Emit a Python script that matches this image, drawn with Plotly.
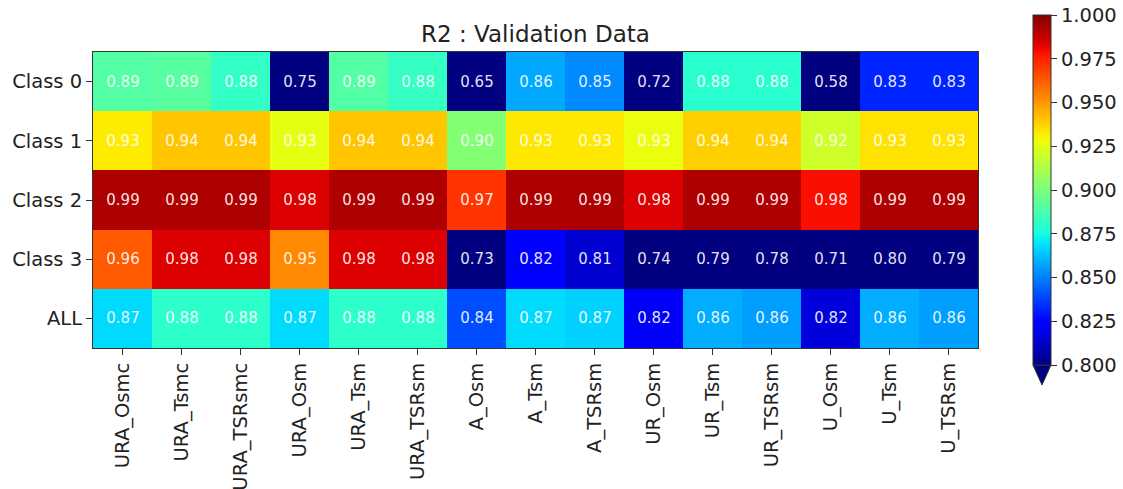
import numpy as np
import plotly.graph_objects as go

models = ["URA_Osmc", "URA_Tsmc", "URA_TSRsmc", "URA_Osm", "URA_Tsm", "URA_TSRsm",
          "A_Osm", "A_Tsm", "A_TSRsm", "UR_Osm", "UR_Tsm", "UR_TSRsm",
          "U_Osm", "U_Tsm", "U_TSRsm"]
classes = ["Class 0", "Class 1", "Class 2", "Class 3", "ALL"]

class0 = [0.890, 0.891, 0.882, 0.75, 0.890, 0.883, 0.65, 0.858, 0.852, 0.72, 0.880, 0.880, 0.58, 0.832, 0.832]
class1 = [0.932, 0.940, 0.940, 0.926, 0.940, 0.940, 0.902, 0.933, 0.933, 0.927, 0.938, 0.938, 0.920, 0.934, 0.934]
class2 = [0.992, 0.992, 0.992, 0.984, 0.992, 0.992, 0.971, 0.992, 0.992, 0.984, 0.992, 0.992, 0.979, 0.992, 0.992]
class3 = [0.963, 0.984, 0.984, 0.953, 0.984, 0.984, 0.73, 0.822, 0.814, 0.74, 0.79, 0.78, 0.71, 0.80, 0.79]
all_row = [0.868, 0.881, 0.881, 0.868, 0.881, 0.881, 0.840, 0.868, 0.866, 0.821, 0.859, 0.856, 0.816, 0.859, 0.856]

z = [class0, class1, class2, class3, all_row]

# matplotlib "jet" colormap
pts = np.linspace(0, 1, 65)
r = np.interp(pts, [0, 0.35, 0.66, 0.89, 1], [0, 0, 1, 1, 0.5])
g = np.interp(pts, [0, 0.125, 0.375, 0.64, 0.91, 1], [0, 0, 1, 1, 0, 0])
b = np.interp(pts, [0, 0.11, 0.34, 0.65, 1], [0.5, 1, 1, 0, 0])
jet = [[float(p), f"rgb({int(round(rr*255))},{int(round(gg*255))},{int(round(bb*255))})"]
       for p, rr, gg, bb in zip(pts, r, g, b)]

W, H = 1123, 489
L, R_, T, B = 93, 978, 52, 348
ml, mr, mt, mb = L, W - R_, T, H - B
pw, ph = R_ - L, B - T

def px(x):
    return (x - L) / pw

def py(y):
    return (B - y) / ph

font = "DejaVu Sans, Arial, sans-serif"

fig = go.Figure(go.Heatmap(
    z=z, x=models, y=classes,
    colorscale=jet, zmin=0.8, zmax=1.0,
    texttemplate="%{z:.2f}",
    textfont=dict(family=font, size=15, color="rgba(255,255,255,0.9)"),
    xgap=0, ygap=0,
    colorbar=dict(
        x=px(1033), xanchor="left", xpad=0,
        y=py(15), yanchor="top", ypad=0,
        lenmode="pixels", len=350,
        thickness=18, thicknessmode="pixels",
        outlinewidth=1, outlinecolor="#333",
        tickvals=[0.8, 0.825, 0.85, 0.875, 0.9, 0.925, 0.95, 0.975, 1.0],
        tickformat=".3f", ticks="outside", ticklen=6, tickcolor="#333",
        tickfont=dict(family=font, size=19.5, color="#222"),
    ),
))

# colorbar "extend min" triangle
fig.add_shape(type="path", xref="paper", yref="paper",
              path=f"M {px(1033)},{py(365)} L {px(1051)},{py(365)} L {px(1042)},{py(385)} Z",
              fillcolor="rgb(0,0,128)", line=dict(color="#333", width=1))

fig.update_layout(
    width=W, height=H,
    margin=dict(l=ml, r=mr, t=mt, b=mb, autoexpand=False),
    paper_bgcolor="white", plot_bgcolor="white",
    title=dict(text="R2 : Validation Data", xref="paper", x=0.5, xanchor="center",
               yref="container", y=1 - 34 / H, yanchor="middle",
               font=dict(family=font, size=23, color="#222")),
    xaxis=dict(tickangle=-90, ticks="outside", ticklen=6, tickcolor="#333",
               showline=True, linecolor="#333", linewidth=1, mirror=True,
               tickfont=dict(family=font, size=19.5, color="#222"),
               automargin=False, showgrid=False, zeroline=False),
    yaxis=dict(autorange="reversed", ticks="outside", ticklen=6, tickcolor="#333",
               showline=True, linecolor="#333", linewidth=1, mirror=True,
               tickfont=dict(family=font, size=19.5, color="#222"),
               automargin=False, showgrid=False, zeroline=False),
)

fig.write_html("out.html")
